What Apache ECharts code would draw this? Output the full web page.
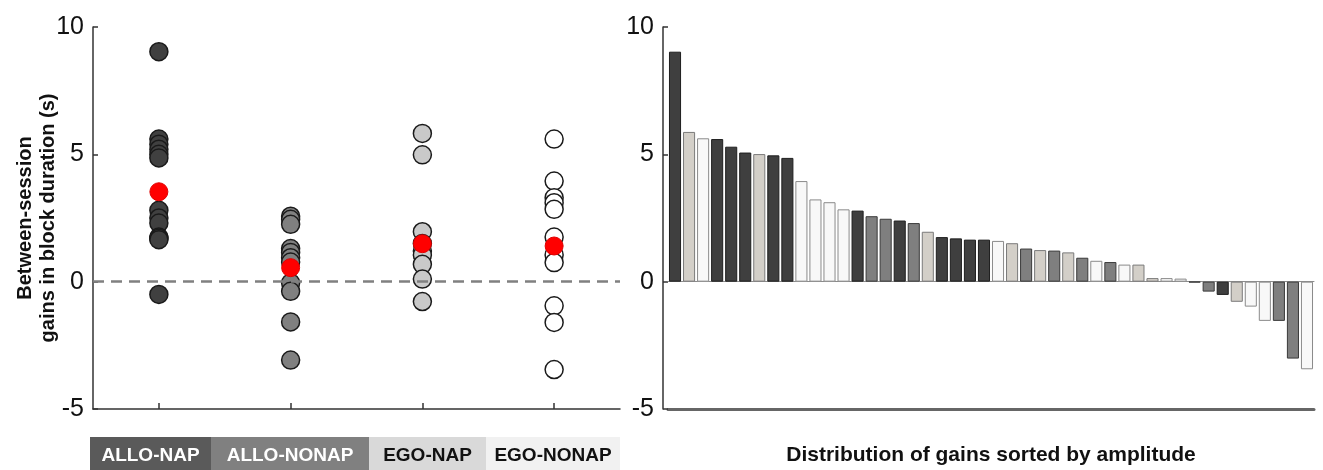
<!DOCTYPE html>
<html><head><meta charset="utf-8">
<script src="https://cdn.jsdelivr.net/npm/echarts@6/dist/echarts.min.js"></script>
<style>html,body{margin:0;padding:0;background:#fff}#c{width:1323px;height:470px}</style>
</head><body><div id="c"></div>
<script>
// ---- data ----
const groups = ['ALLO-NAP', 'ALLO-NONAP', 'EGO-NAP', 'EGO-NONAP'];
const alloNap = [9.03, 5.6, 5.4, 5.2, 5.0, 4.86, 2.8, 2.5, 2.3, 1.75, 1.7, 1.65, -0.5];
const alloNonap = [2.57, 2.45, 2.25, 1.3, 1.15, 0.94, 0.77, -0.05, -0.38, -1.58, -3.08];
const egoNap = [5.82, 4.98, 1.96, 1.5, 1.2, 1.05, 0.68, 0.1, -0.78];
const egoNonap = [5.6, 3.95, 3.3, 3.1, 2.84, 1.75, 1.05, 0.75, -0.95, -1.6, -3.45];
const groupMeans = [3.53, 0.55, 1.49, 1.4];
const yTicks = [-5, 0, 5, 10];
const sortedGains = [9.03, 5.88, 5.63, 5.6, 5.3, 5.07, 5.01, 4.96, 4.86, 3.95,
  3.23, 3.12, 2.84, 2.79, 2.57, 2.47, 2.4, 2.3, 1.96, 1.75,
  1.7, 1.65, 1.65, 1.6, 1.51, 1.3, 1.24, 1.22, 1.15, 0.94,
  0.82, 0.77, 0.67, 0.67, 0.14, 0.14, 0.12, -0.03, -0.39, -0.52,
  -0.79, -0.98, -1.54, -1.54, -3.02, -3.44];
const sortedGroup = ['ALLO-NAP', 'EGO-NAP', 'EGO-NONAP', 'ALLO-NAP', 'ALLO-NAP', 'ALLO-NAP', 'EGO-NAP', 'ALLO-NAP', 'ALLO-NAP', 'EGO-NONAP',
  'EGO-NONAP', 'EGO-NONAP', 'EGO-NONAP', 'ALLO-NAP', 'ALLO-NONAP', 'ALLO-NONAP', 'ALLO-NAP', 'ALLO-NONAP', 'EGO-NAP', 'ALLO-NAP',
  'ALLO-NAP', 'ALLO-NAP', 'ALLO-NAP', 'EGO-NONAP', 'EGO-NAP', 'ALLO-NONAP', 'EGO-NAP', 'ALLO-NONAP', 'EGO-NAP', 'ALLO-NONAP',
  'EGO-NONAP', 'ALLO-NONAP', 'EGO-NONAP', 'EGO-NAP', 'EGO-NAP', 'EGO-NONAP', 'EGO-NONAP', 'ALLO-NONAP', 'ALLO-NONAP', 'ALLO-NAP',
  'EGO-NAP', 'EGO-NONAP', 'EGO-NONAP', 'ALLO-NONAP', 'ALLO-NONAP', 'EGO-NONAP'];
const leftTitle = 'Between-session\ngains in block duration (s)';
const rightTitle = 'Distribution of gains sorted by amplitude';

// ---- styles ----
const FONT = 'Liberation Sans, Arial, sans-serif';
const dotFill = {'ALLO-NAP': '#404040', 'ALLO-NONAP': '#808080', 'EGO-NAP': '#c9c9c9', 'EGO-NONAP': '#ffffff'};
const barFill = {'ALLO-NAP': '#3f3f3f', 'ALLO-NONAP': '#7f7f7f', 'EGO-NAP': '#d3cfc8', 'EGO-NONAP': '#f8f8f8'};
const barEdge = {'ALLO-NAP': '#1e1e1e', 'ALLO-NONAP': '#3a3a3a', 'EGO-NAP': '#7a7a7a', 'EGO-NONAP': '#8a8a8a'};
const boxFill = ['#5a5a5a', '#808080', '#d9d9d9', '#f1f1f1'];
const boxText = ['#ffffff', '#ffffff', '#111111', '#111111'];
const boxX = [90, 211, 369, 486, 620];

const groupData = [alloNap, alloNonap, egoNap, egoNonap];

const yAxisCommon = {
  type: 'value', min: yTicks[0], max: yTicks[yTicks.length - 1], interval: 5,
  axisLine: {show: true, lineStyle: {color: '#333', width: 1.5}},
  axisTick: {show: true, inside: true, length: 5, lineStyle: {color: '#333', width: 1.5}},
  axisLabel: {fontSize: 25, color: '#111', fontFamily: FONT, margin: 9},
  splitLine: {show: false}
};

const series = [];
groupData.forEach((vals, gi) => {
  series.push({
    type: 'scatter', xAxisIndex: 0, yAxisIndex: 0,
    symbolSize: 18,
    itemStyle: {color: dotFill[groups[gi]], borderColor: '#1a1a1a', borderWidth: 1.5, opacity: 1},
    data: vals.map(v => [gi, v]),
    z: 3
  });
});
series.push({
  type: 'scatter', xAxisIndex: 0, yAxisIndex: 0, symbolSize: 18,
  itemStyle: {color: '#ff0000', borderColor: '#e00000', borderWidth: 1, opacity: 1},
  data: groupMeans.map((v, i) => [i, v]),
  z: 5,
  markLine: {
    silent: true, symbol: 'none', label: {show: false},
    lineStyle: {color: '#808080', type: [11, 7], width: 2.5},
    data: [{yAxis: 0}]
  }
});
series.push({
  type: 'bar', xAxisIndex: 1, yAxisIndex: 1,
  barCategoryGap: '14%',
  data: sortedGains.map((v, i) => ({
    value: v,
    itemStyle: {color: barFill[sortedGroup[i]], borderColor: barEdge[sortedGroup[i]], borderWidth: 1}
  }))
});

const graphic = [];
groups.forEach((g, i) => {
  graphic.push({type: 'rect', shape: {x: boxX[i], y: 437, width: boxX[i + 1] - boxX[i], height: 33},
    style: {fill: boxFill[i]}, silent: true});
  graphic.push({type: 'text', x: (boxX[i] + boxX[i + 1]) / 2, y: 456,
    style: {text: g, fill: boxText[i], font: 'bold 19px ' + FONT, textAlign: 'center', textVerticalAlign: 'middle'}, silent: true});
});
graphic.push({type: 'text', x: 991, y: 455,
  style: {text: rightTitle, fill: '#111', font: 'bold 21px ' + FONT, textAlign: 'center', textVerticalAlign: 'middle'}, silent: true});

const chart = echarts.init(document.getElementById('c'), null, {renderer: 'canvas'});
chart.setOption({
  animation: false,
  backgroundColor: '#ffffff',
  grid: [
    {left: 93, top: 27, width: 527, height: 382, containLabel: false},
    {left: 668, top: 27, width: 646, height: 382, containLabel: false}
  ],
  xAxis: [
    {type: 'category', gridIndex: 0, data: groups, boundaryGap: true,
      axisLine: {show: true, onZero: false, lineStyle: {color: '#333', width: 1.5}},
      axisTick: {show: true, inside: true, alignWithLabel: true, length: 6, lineStyle: {color: '#333', width: 1.5}},
      axisLabel: {show: false}, splitLine: {show: false}},
    {type: 'category', gridIndex: 1, data: sortedGains.map((v, i) => String(i + 1)),
      axisLine: {show: true, onZero: true, lineStyle: {color: '#8c8c8c', width: 1}},
      axisTick: {show: false}, axisLabel: {show: false}, splitLine: {show: false}, z: 1},
    {type: 'category', gridIndex: 1, position: 'bottom', data: sortedGains.map((v, i) => String(i + 1)),
      axisLine: {show: true, onZero: false, lineStyle: {color: '#666', width: 3}},
      axisTick: {show: false}, axisLabel: {show: false}, splitLine: {show: false}}
  ],
  yAxis: [
    Object.assign({}, yAxisCommon, {gridIndex: 0,
      name: leftTitle, nameLocation: 'middle', nameGap: 33, nameMoveOverlap: false,
      nameTextStyle: {fontSize: 20, fontWeight: 'bold', fontFamily: FONT, color: '#111', lineHeight: 23}}),
    Object.assign({}, yAxisCommon, {gridIndex: 1, offset: 5})
  ],
  series: series,
  graphic: graphic
});
</script>
</body></html>
